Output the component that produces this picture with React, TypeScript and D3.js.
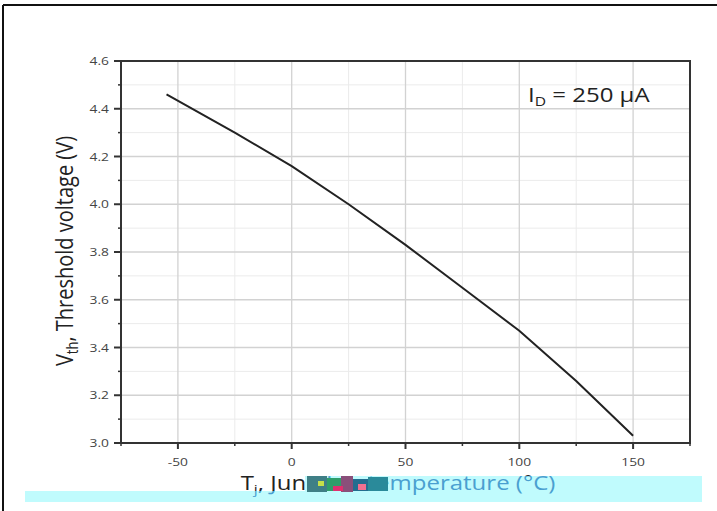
import React from "react";
import * as d3 from "d3";

const temps = [-55, -25, 0, 25, 50, 75, 100, 125, 150];
const vth = [4.46, 4.3, 4.16, 4.0, 3.83, 3.65, 3.47, 3.26, 3.03];
const xMajorTicks = [-50, 0, 50, 100, 150];
const xMinorTicks = [-75, -25, 25, 75, 125, 175];
const yMajorTicks = [3.0, 3.2, 3.4, 3.6, 3.8, 4.0, 4.2, 4.4, 4.6];
const yMinorTicks = [3.1, 3.3, 3.5, 3.7, 3.9, 4.1, 4.3, 4.5];

const W = 717;
const H = 511;
const left = 121;
const right = 690;
const top = 61;
const bottom = 443;
const FONT = "'Open Sans', 'Noto Sans', sans-serif";
const SX = 1.2;

export default function App() {
  const x = d3.scaleLinear().domain([-75, 175]).range([left, right]);
  const y = d3.scaleLinear().domain([3.0, 4.6]).range([bottom, top]);
  const line = d3
    .line<number>()
    .x((_, i) => x(temps[i]))
    .y((d) => y(d))
    .curve(d3.curveLinear);

  const xLabel = (fill: string) => (
    <text transform={`translate(398, 490) scale(${SX},1)`} textAnchor="middle" fontFamily={FONT} fontSize={20} fill={fill}>
      T<tspan fontSize={13} dy={4}>j</tspan>
      <tspan dy={-4}>, Junction temperature (°C)</tspan>
    </text>
  );

  return (
    <svg
      width={W}
      height={H}
      style={{ position: "absolute", left: 0, top: 0, display: "block", background: "#fff" }}
    >
      <defs>
        <clipPath id="cyanClip">
          <rect x={305} y={476} width={397} height={26} />
          <rect x={25} y={491} width={677} height={11} />
        </clipPath>
      </defs>
      {/* outer frame */}
      <line x1={3} y1={5} x2={W} y2={5} stroke="#111" strokeWidth={2} />
      <line x1={3} y1={5} x2={3} y2={H} stroke="#111" strokeWidth={2} />

      {/* minor grid */}
      {xMinorTicks
        .filter((t) => t > -75 && t < 175)
        .map((t) => (
          <line key={"xm" + t} x1={x(t)} x2={x(t)} y1={top} y2={bottom} stroke="#ebebeb" strokeWidth={1} />
        ))}
      {yMinorTicks.map((t) => (
        <line key={"ym" + t} x1={left} x2={right} y1={y(t)} y2={y(t)} stroke="#ebebeb" strokeWidth={1} />
      ))}
      {/* major grid */}
      {xMajorTicks.map((t) => (
        <line key={"xg" + t} x1={x(t)} x2={x(t)} y1={top} y2={bottom} stroke="#d2d2d2" strokeWidth={1.3} />
      ))}
      {yMajorTicks.map((t) => (
        <line key={"yg" + t} x1={left} x2={right} y1={y(t)} y2={y(t)} stroke="#d2d2d2" strokeWidth={1.3} />
      ))}

      {/* frame of plot */}
      <rect x={left} y={top} width={right - left} height={bottom - top} fill="none" stroke="#333" strokeWidth={2} />

      {/* ticks */}
      {xMajorTicks.map((t) => (
        <line key={"xt" + t} x1={x(t)} x2={x(t)} y1={bottom} y2={bottom + 6} stroke="#333" strokeWidth={2} />
      ))}
      {xMinorTicks.map((t) => (
        <line key={"xmt" + t} x1={x(t)} x2={x(t)} y1={bottom} y2={bottom + 3} stroke="#333" strokeWidth={1.5} />
      ))}
      {yMajorTicks.map((t) => (
        <line key={"yt" + t} x1={left - 7} x2={left} y1={y(t)} y2={y(t)} stroke="#333" strokeWidth={2} />
      ))}
      {yMinorTicks.map((t) => (
        <line key={"ymt" + t} x1={left - 3} x2={left} y1={y(t)} y2={y(t)} stroke="#333" strokeWidth={1.5} />
      ))}

      {/* tick labels */}
      {xMajorTicks.map((t) => (
        <text
          key={"xl" + t}
          transform={`translate(${x(t)}, ${bottom + 23}) scale(${SX},1)`}
          textAnchor="middle"
          fontFamily={FONT}
          fontSize={11.5}
          fill="#444"
        >
          {t}
        </text>
      ))}
      {yMajorTicks.map((t) => (
        <text
          key={"yl" + t}
          transform={`translate(${left - 12}, ${y(t) + 4}) scale(${SX},1)`}
          textAnchor="end"
          fontFamily={FONT}
          fontSize={11.5}
          fill="#444"
        >
          {t.toFixed(1)}
        </text>
      ))}

      {/* curve */}
      <path d={line(vth) || ""} fill="none" stroke="#222" strokeWidth={2} />

      {/* annotation */}
      <text transform={`translate(528, 102) scale(${SX},1)`} fontFamily={FONT} fontSize={20} fill="#222">
        I<tspan fontSize={13} dy={4}>D</tspan>
        <tspan dy={-4}> = 250 µA</tspan>
      </text>

      {/* y label */}
      <text
        transform={`translate(73, 251) scale(${SX},1) rotate(-90)`}
        textAnchor="middle"
        fontFamily={FONT}
        fontSize={20}
        fill="#222"
      >
        V<tspan fontSize={13} dy={4}>th</tspan>
        <tspan dy={-4}>, Threshold voltage (V)</tspan>
      </text>

      {/* x label */}
      {xLabel("#222")}

      {/* cyan overlay artifact */}
      <rect x={305} y={476} width={397} height={15} fill="#c0fbfd" />
      <rect x={25} y={491} width={677} height={11} fill="#c0fbfd" />
      <g clipPath="url(#cyanClip)">{xLabel("#4a9fd0")}</g>
      {/* garbled patch */}
      <rect x={307} y={476} width={20} height={16} fill="#3f7f86" />
      <rect x={327} y={478} width={14} height={13} fill="#2f9e6a" />
      <rect x={341} y={476} width={12} height={16} fill="#8a4f7a" />
      <rect x={353} y={479} width={15} height={12} fill="#236d8f" />
      <rect x={368} y={477} width={20} height={14} fill="#2a8a9a" />
      <rect x={333} y={486} width={10} height={5} fill="#e0306f" />
      <rect x={318} y={481} width={6} height={5} fill="#c6e04a" />
      <rect x={358} y={484} width={8} height={6} fill="#f07090" />
    </svg>
  );
}
